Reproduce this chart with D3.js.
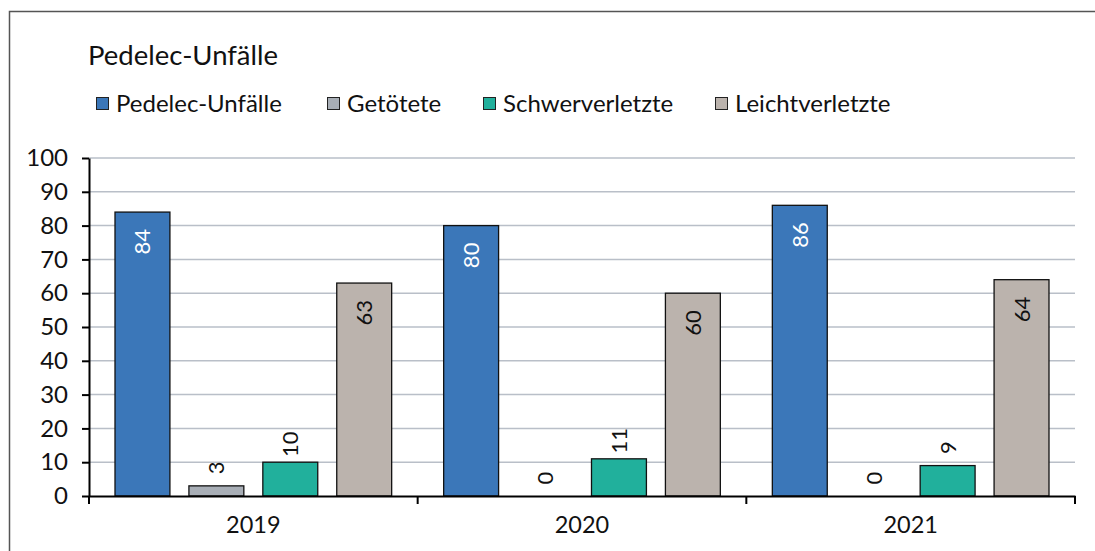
<!DOCTYPE html>
<html>
<head>
<meta charset="utf-8">
<script src="https://cdn.jsdelivr.net/npm/d3@7"></script>
<style>
  body { margin: 0; background: #fff; }
  svg { display: block; font-family: Lato, "Open Sans", sans-serif; }
</style>
</head>
<body>
<svg id="chart" width="1095" height="551"></svg>
<script>
// data
const years = ["2019", "2020", "2021"];
const series = ["Pedelec-Unfälle", "Getötete", "Schwerverletzte", "Leichtverletzte"];
const unfaelle = [84, 80, 86];
const getoetete = [3, 0, 0];
const schwer = [10, 11, 9];
const leicht = [63, 60, 64];
const yTicks = [0, 10, 20, 30, 40, 50, 60, 70, 80, 90, 100];

const values = [unfaelle, getoetete, schwer, leicht];
const colors = ["#3b77b9", "#a8aeb6", "#21b09c", "#bbb3ad"];
// inside = label inside bar top, otherwise above
const inside = [true, false, false, true];
const labelColor = ["#fff", "#111", "#111", "#111"];

const svg = d3.select("#chart");
const margin = { left: 89, right: 20, top: 158, bottom: 55 };

// frame
svg.append("rect")
    .attr("x", 9.5).attr("y", 11.5)
    .attr("width", 1100).attr("height", 600)
    .attr("fill", "none")
    .attr("stroke", "#555")
    .attr("stroke-width", 1.5);

// title
svg.append("text")
    .attr("x", 88).attr("y", 65)
    .attr("font-size", 27.5)
    .attr("fill", "#111")
    .text("Pedelec-Unfälle");

// legend
const legendX = [96, 327, 483, 715];
const legend = svg.append("g").selectAll("g")
    .data(series)
    .join("g")
    .attr("transform", (d, i) => "translate(" + legendX[i] + ",97)");
legend.append("rect")
    .attr("x", 0.5).attr("y", 0.5)
    .attr("width", 12).attr("height", 12)
    .attr("fill", (d, i) => colors[i])
    .attr("stroke", "#222")
    .attr("stroke-width", 1);
legend.append("text")
    .attr("x", 20).attr("y", 15)
    .attr("font-size", 24)
    .attr("fill", "#111")
    .text(d => d);

// scales
const x0 = d3.scaleBand()
    .domain(years)
    .range([margin.left, 1075]);
const x1 = d3.scaleBand()
    .domain(d3.range(series.length))
    .range([26, x0.bandwidth() - 26])
    .paddingInner(0.257);
const y = d3.scaleLinear()
    .domain([0, 100])
    .range([496, 158]);

// grid
svg.append("g")
    .selectAll("line")
    .data(yTicks.filter(d => d > 0))
    .join("line")
    .attr("x1", margin.left).attr("x2", 1075)
    .attr("y1", d => y(d)).attr("y2", d => y(d))
    .attr("stroke", "#b9bfc8")
    .attr("stroke-width", 1.5);

// bars
const groups = svg.append("g")
    .selectAll("g")
    .data(years)
    .join("g")
    .attr("transform", d => "translate(" + x0(d) + ",0)");

groups.selectAll("rect")
    .data((d, yi) => values.map((v, si) => ({ si: si, v: v[yi] })))
    .join("rect")
    .filter(d => d.v > 0)
    .attr("x", d => x1(d.si))
    .attr("y", d => y(d.v))
    .attr("width", x1.bandwidth())
    .attr("height", d => y(0) - y(d.v))
    .attr("fill", d => colors[d.si])
    .attr("stroke", "#111")
    .attr("stroke-width", 1.3);

// data labels, rotated
groups.selectAll("text")
    .data((d, yi) => values.map((v, si) => ({ si: si, v: v[yi] })))
    .join("text")
    .attr("transform", d => {
        const cx = x1(d.si) + x1.bandwidth() / 2 + 8;
        const cy = inside[d.si] ? y(d.v) + 17 : y(d.v) - 18;
        return "translate(" + cx + "," + cy + ") rotate(-90)";
    })
    .attr("text-anchor", d => inside[d.si] ? "end" : "middle")
    .attr("font-size", 22)
    .attr("fill", d => labelColor[d.si])
    .text(d => d.v);

// y axis
const yAxis = d3.axisLeft(y)
    .tickValues(yTicks)
    .tickSize(7)
    .tickSizeOuter(0)
    .tickPadding(14);
const gy = svg.append("g")
    .attr("transform", "translate(" + margin.left + ",0)")
    .call(yAxis);
gy.select(".domain").attr("stroke", "#000").attr("stroke-width", 2);
gy.selectAll(".tick line").attr("stroke", "#000").attr("stroke-width", 2);
gy.selectAll(".tick text")
    .attr("font-size", 24)
    .attr("fill", "#111")
    .attr("font-family", "Lato, sans-serif");

// x axis
const xAxis = d3.axisBottom(x0)
    .tickSize(0)
    .tickPadding(20);
const gx = svg.append("g")
    .attr("transform", "translate(0," + y(0) + ")")
    .call(xAxis);
gx.select(".domain").attr("stroke", "#000").attr("stroke-width", 2);
gx.selectAll(".tick text")
    .attr("font-size", 23.5)
    .attr("fill", "#111")
    .attr("font-family", "Lato, sans-serif");
// boundary ticks
gx.selectAll(".bound")
    .data(years.map(d => x0(d)).concat([x0.range()[1]]))
    .join("line")
    .attr("class", "bound")
    .attr("x1", d => d).attr("x2", d => d)
    .attr("y1", 0).attr("y2", 8)
    .attr("stroke", "#000")
    .attr("stroke-width", 2);
</script>
</body>
</html>
